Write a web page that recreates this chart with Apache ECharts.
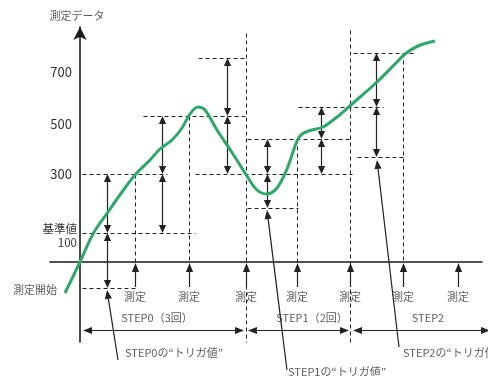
<!DOCTYPE html>
<html><head><meta charset="utf-8">
<script src="https://cdn.jsdelivr.net/npm/echarts@6/dist/echarts.min.js"></script>
<style>html,body{margin:0;padding:0;background:#fff}#c{width:488px;height:376px}</style>
</head><body><div id="c"></div>
<script>
// ---- data (diagram units: x = time, y = measured value) ----
const curveX = [-15,0,13,28,42,55,70,80,92,102,110,118,125,137,153,167,177,187,197,207,217,222,232,243,257,272,297,317,325,338,355];
const curveY = [-31,0,28,50,70,87,102,113,122,134,148,155,152,132,108,86,72,68,74,93,121,128,132,135,145,158,180,200,208,216,221];

const yTickValues = [190,138,88,26];
const yTickLabels = ['700','500','300','基準値\n100'];

// horizontal dashed levels: [y, xStart, xEnd]
const levelLines = [
  [-26,2,55],[29,2,115],[88,2,87],[88,115,272],[146,63,167],[204,118,167],
  [123,167,270],[54,167,218],[155,218,303],[209,273,335],[105,277,325]
];
// vertical dashed guides: [x, yStart, yEnd]
const guideLines = [
  [55,88,0],[109,146,0],[166,229,-80],[217,123,0],[270,232,-80],[323,209,0]
];
// double arrows (trigger width): [x, yTop, yBottom]
const doubleArrows = [
  [27,88,29],[27,29,-26],
  [82,146,88],[82,88,29],
  [147,204,146],[147,146,88],
  [187,123,88],[187,88,54],
  [241,155,123],[241,123,88],
  [296,209,155],[296,155,105]
];
const measureX = [55,109,166,217,270,323,378];
const measureText = '測定';
const stepSpans = [[3,164],[168,269],[273,410]];
const stepNames = ['STEP0（3回）','STEP1（2回）','STEP2'];
const stepLabelX = [77,232,348];
const triggerNames = ['STEP0の“トリガ値”','STEP1の“トリガ値”','STEP2の“トリガ値”'];
const triggerLabelPos = [[45,-91],[208,-110],[323,-91]];
const triggerTips = [[27,-28],[187,52],[297,102]];
const triggerTails = [[38,-98],[207,-108],[319,-85]];
const axisTitle = '測定データ';
const startText = '測定開始';

// ---- drawing helpers ----
const FONT = "'Noto Sans CJK JP', 'Noto Sans', sans-serif";
const INK = '#222';
const TXT = '#333';
function arrowShape(p1, p2, head1, head2, color, hw, hl) {
  const dx = p2[0]-p1[0], dy = p2[1]-p1[1];
  const len = Math.hypot(dx, dy) || 1;
  const ux = dx/len, uy = dy/len, nx = -uy, ny = ux;
  const s = head1 ? [p1[0]+ux*hl, p1[1]+uy*hl] : p1;
  const e = head2 ? [p2[0]-ux*hl, p2[1]-uy*hl] : p2;
  const children = [{type:'line', shape:{x1:s[0],y1:s[1],x2:e[0],y2:e[1]}, style:{stroke:color, lineWidth:1.2}}];
  const tri = (tip, ax, ay) => ({type:'polygon', shape:{points:[
    tip, [tip[0]-ax*hl+nx*hw, tip[1]-ay*hl+ny*hw], [tip[0]-ax*hl-nx*hw, tip[1]-ay*hl-ny*hw]]}, style:{fill:color}});
  if (head1) children.push(tri(p1, -ux, -uy));
  if (head2) children.push(tri(p2, ux, uy));
  return {type:'group', children};
}
const crisp = p => [Math.round(p[0])+0.5, Math.round(p[1])+0.5];
function textSeries(points, texts, align, size) {
  return {
    type:'scatter', symbolSize:0, clip:false, silent:true, z:10,
    data: points.map((p,i)=>({value:p, label:{formatter:texts[i]}})),
    label:{show:true, position:[0,0], align:align, verticalAlign:'middle', color:TXT, fontSize:size, fontFamily:FONT}
  };
}

const chart = echarts.init(document.getElementById('c'), null, {renderer:'canvas'});
chart.setOption({
  animation:false,
  backgroundColor:'#fff',
  grid:{left:50, right:6, top:27, bottom:34, containLabel:false, outerBoundsMode:'none'},
  xAxis:{type:'value', min:-30, max:402, splitLine:{show:false}, axisTick:{show:false}, axisLabel:{show:false},
    axisLine:{show:true, onZero:true, lineStyle:{color:'#1a1a1a', width:1.6}}},
  yAxis:{type:'value', min:-80, max:235, splitLine:{show:false}, axisTick:{show:false},
    axisLine:{show:true, onZero:true, symbol:['none','arrow'], symbolSize:[10,13], lineStyle:{color:'#1a1a1a', width:1.6}},
    axisLabel:{show:true, customValues:yTickValues, margin:-27, color:TXT, fontFamily:FONT, fontSize:12,
      formatter:v=>{
        const i = yTickValues.indexOf(v);
        const t = i<0 ? '' : yTickLabels[i];
        if (t.indexOf('\n')>=0) return t.split('\n').map(s=>'{c|'+s+'}').join('\n');
        return '{n|'+t+'}';
      },
      rich:{n:{fontSize:13, padding:[0,5,0,0], color:TXT, fontFamily:FONT}, c:{fontSize:11.5, lineHeight:14, color:TXT, fontFamily:FONT}}}},
  series:[
    {type:'custom', silent:true, z:2, data:levelLines,
      renderItem:(p,api)=>{const a=crisp(api.coord([api.value(1),api.value(0)])), b=crisp(api.coord([api.value(2),api.value(0)]));
        return {type:'line', shape:{x1:a[0],y1:a[1],x2:b[0],y2:b[1]}, style:{stroke:INK, lineWidth:1, lineDash:[4,3]}};}},
    {type:'custom', silent:true, z:2, data:guideLines,
      renderItem:(p,api)=>{const a=crisp(api.coord([api.value(0),api.value(1)])), b=crisp(api.coord([api.value(0),api.value(2)]));
        return {type:'line', shape:{x1:a[0],y1:a[1],x2:b[0],y2:b[1]}, style:{stroke:INK, lineWidth:1, lineDash:[4,3]}};}},
    {type:'custom', silent:true, z:4, data:doubleArrows,
      renderItem:(p,api)=>{const a=api.coord([api.value(0),api.value(1)]), b=api.coord([api.value(0),api.value(2)]);
        const x=Math.round(a[0])+0.5; return arrowShape([x,a[1]],[x,b[1]],true,true,INK,3.6,8);}},
    {type:'custom', silent:true, z:4, data:measureX.map(x=>[x,-25,0]),
      renderItem:(p,api)=>{const a=api.coord([api.value(0),api.value(1)]), b=api.coord([api.value(0),api.value(2)]);
        const x=Math.round(a[0])+0.5; return arrowShape([x,a[1]],[x,b[1]+1],false,true,INK,3.6,9);}},
    {type:'custom', silent:true, z:4, data:stepSpans.map(s=>[s[0],s[1],-68]),
      renderItem:(p,api)=>{const a=api.coord([api.value(0),api.value(2)]), b=api.coord([api.value(1),api.value(2)]);
        const y=Math.round(a[1])+0.5; return arrowShape([a[0],y],[b[0],y],true,true,INK,3.6,9);}},
    {type:'custom', silent:true, z:4, data:triggerTips.map((t,i)=>[triggerTails[i][0],triggerTails[i][1],t[0],t[1]]),
      renderItem:(p,api)=>{const a=api.coord([api.value(0),api.value(1)]), b=api.coord([api.value(2),api.value(3)]);
        return arrowShape(a,b,false,true,INK,3.6,9);}},
    {type:'line', z:6, silent:true, smooth:0.35, symbol:'none', clip:false,
      data:curveX.map((x,i)=>[x,curveY[i]]), lineStyle:{color:'#2ea86a', width:3}},
    textSeries(measureX.map(x=>[x,-35]), measureX.map(()=>measureText), 'center', 11),
    textSeries(stepLabelX.map(x=>[x,-56]), stepNames, 'center', 11),
    textSeries(triggerLabelPos, triggerNames, 'left', 11),
    textSeries([[-3,246]], [axisTitle], 'center', 11),
    textSeries([[-23,-28]], [startText], 'right', 11)
  ]
});
</script></body></html>
